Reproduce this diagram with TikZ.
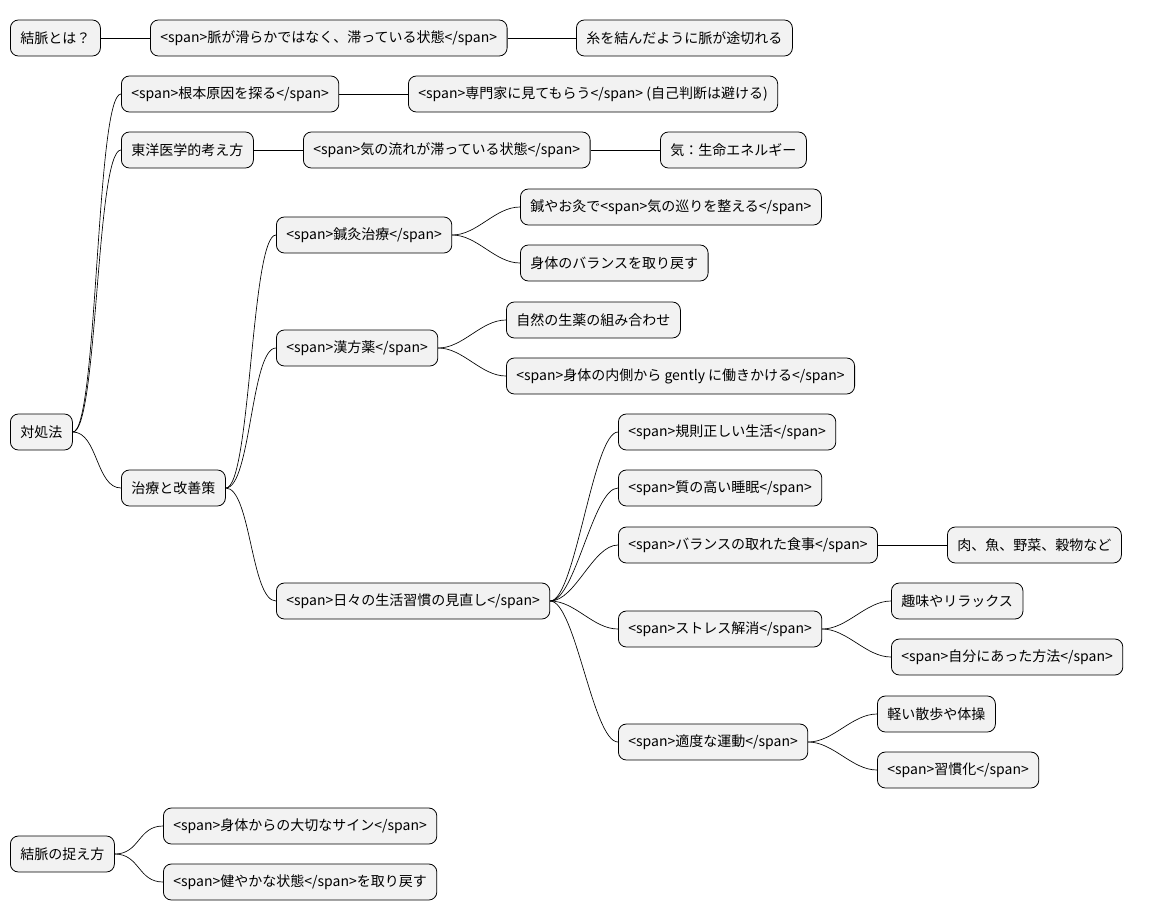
\documentclass[tikz,border=0pt]{standalone}
\usepackage{fontspec}
\setmainfont{Noto Sans CJK JP}
\tikzset{
  box/.style={draw, rounded corners=6pt, fill=gray!10, anchor=west, minimum height=27pt,
    inner xsep=7.5pt, font=\fontsize{10.5pt}{12pt}\selectfont, line width=0.6pt},
  link/.style={draw, line width=0.5pt}
}
\newcommand{\branch}[2]{\draw[link] (#1.east) .. controls +(25,0) and +(-25,0) .. (#2.west);}
\begin{document}
\begin{tikzpicture}[x=0.75pt,y=-0.75pt]
  \useasboundingbox (0,0) rectangle (1153,921);
  % top row
  \node[box] (what) at (10,38) {結脈とは？};
  \node[box] (stag) at (150,38) {<span>脈が滑らかではなく、滞っている状態</span>};
  \node[box] (knot) at (576,38) {糸を結んだように脈が途切れる};
  \draw[link] (what) -- (stag);
  \draw[link] (stag) -- (knot);

  % remedies
  \node[box] (cope) at (10,432) {対処法};
  \node[box] (root) at (121,94) {<span>根本原因を探る</span>};
  \node[box] (expert) at (408,94) {<span>専門家に見てもらう</span> (自己判断は避ける)};
  \node[box] (east) at (121,150) {東洋医学的考え方};
  \node[box] (qiflow) at (303,150) {<span>気の流れが滞っている状態</span>};
  \node[box] (qi) at (660,150) {気：生命エネルギー};
  \node[box] (cure) at (121,488) {治療と改善策};
  \draw[link] (root) -- (expert);
  \draw[link] (east) -- (qiflow);
  \draw[link] (qiflow) -- (qi);
  \branch{cope}{root}
  \branch{cope}{east}
  \branch{cope}{cure}

  % treatments
  \node[box] (acu) at (276,235) {<span>鍼灸治療</span>};
  \node[box] (acu1) at (520,207) {鍼やお灸で<span>気の巡りを整える</span>};
  \node[box] (acu2) at (520,263) {身体のバランスを取り戻す};
  \node[box] (kampo) at (276,348) {<span>漢方薬</span>};
  \node[box] (kampo1) at (506,320) {自然の生薬の組み合わせ};
  \node[box] (kampo2) at (506,376) {<span>身体の内側から gently に働きかける</span>};
  \node[box] (daily) at (276,601) {<span>日々の生活習慣の見直し</span>};
  \branch{cure}{acu}
  \branch{cure}{kampo}
  \branch{cure}{daily}
  \branch{acu}{acu1}
  \branch{acu}{acu2}
  \branch{kampo}{kampo1}
  \branch{kampo}{kampo2}

  % daily habits
  \node[box] (rule) at (618,432) {<span>規則正しい生活</span>};
  \node[box] (sleep) at (618,488) {<span>質の高い睡眠</span>};
  \node[box] (meal) at (618,545) {<span>バランスの取れた食事</span>};
  \node[box] (food) at (947,545) {肉、魚、野菜、穀物など};
  \node[box] (stress) at (618,629) {<span>ストレス解消</span>};
  \node[box] (hobby) at (891,601) {趣味やリラックス};
  \node[box] (own) at (891,657) {<span>自分にあった方法</span>};
  \node[box] (move) at (618,742) {<span>適度な運動</span>};
  \node[box] (walk) at (877,714) {軽い散歩や体操};
  \node[box] (habit) at (877,770) {<span>習慣化</span>};
  \foreach \n in {rule,sleep,meal,stress,move}
    \branch{daily}{\n}
  \draw[link] (meal) -- (food);
  \branch{stress}{hobby}
  \branch{stress}{own}
  \branch{move}{walk}
  \branch{move}{habit}

  % view
  \node[box] (view) at (10,854) {結脈の捉え方};
  \node[box] (sign) at (163,826) {<span>身体からの大切なサイン</span>};
  \node[box] (health) at (163,882) {<span>健やかな状態</span>を取り戻す};
  \branch{view}{sign}
  \branch{view}{health}
\end{tikzpicture}
\end{document}
